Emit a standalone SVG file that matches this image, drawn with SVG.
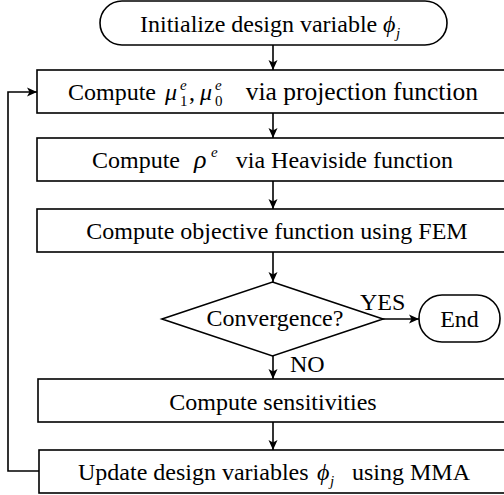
<svg xmlns="http://www.w3.org/2000/svg" width="504" height="495" viewBox="0 0 504 495">
<style>
text{font-family:"Liberation Serif","Times New Roman",serif;font-size:24px;fill:#000}
.i{font-style:italic}
.s{font-size:15px;font-style:italic}
.n{font-size:15px}
.box{fill:#fff;stroke:#000;stroke-width:1.6}
.ln{fill:none;stroke:#000;stroke-width:1.6}
</style>
<defs>
<marker id="ah" viewBox="0 0 10 10" refX="10" refY="5" markerWidth="10" markerHeight="10" markerUnits="userSpaceOnUse" orient="auto">
<path d="M0,0.5 L10,5 L0,9.5 L2.5,5 Z" fill="#000"/>
</marker>
</defs>
<g id="connectors">
<line class="ln" x1="273" y1="45" x2="273" y2="70" marker-end="url(#ah)"/>
<line class="ln" x1="273" y1="113" x2="273" y2="138" marker-end="url(#ah)"/>
<line class="ln" x1="273" y1="181" x2="273" y2="209" marker-end="url(#ah)"/>
<line class="ln" x1="273" y1="252" x2="273" y2="282" marker-end="url(#ah)"/>
<line class="ln" x1="383" y1="319" x2="419" y2="319" marker-end="url(#ah)"/>
<line class="ln" x1="273" y1="356" x2="273" y2="379" marker-end="url(#ah)"/>
<line class="ln" x1="273" y1="422" x2="273" y2="450" marker-end="url(#ah)"/>
<polyline class="ln" points="39,471 8,471 8,92 37,92" marker-end="url(#ah)"/>
<text x="360" y="310">YES</text>
<text x="290" y="372">NO</text>
</g>
<g id="start">
<rect class="box" x="100" y="1" width="347" height="44" rx="22" ry="22"/>
<text x="140" y="32">Initialize design variable</text>
<text class="i" x="383" y="32">ϕ</text>
<text class="s" x="396" y="38">j</text>
</g>
<g id="projection">
<rect class="box" x="37" y="70" width="472" height="43"/>
<text x="68" y="100">Compute</text>
<text class="i" x="165" y="100">μ</text>
<text class="s" x="180" y="90">e</text>
<text class="n" x="180" y="106">1</text>
<text x="189" y="100">,</text>
<text class="i" x="200" y="100">μ</text>
<text class="s" x="215" y="90">e</text>
<text class="n" x="215" y="106">0</text>
<text x="478" y="100" text-anchor="end" style="font-size:25.5px">via projection function</text>
</g>
<g id="heaviside">
<rect class="box" x="37" y="138" width="472" height="43"/>
<text x="92" y="168">Compute</text>
<text class="i" x="194" y="168" style="font-size:26px">ρ</text>
<text class="s" x="211" y="157">e</text>
<text x="453" y="168" text-anchor="end">via Heaviside function</text>
</g>
<g id="fem">
<rect class="box" x="37" y="209" width="472" height="43"/>
<text x="277" y="239" text-anchor="middle">Compute objective function using FEM</text>
</g>
<g id="convergence">
<polygon class="box" points="272.5,282 383,319 272.5,356 162,319"/>
<text x="275" y="326" text-anchor="middle">Convergence?</text>
</g>
<g id="end">
<rect class="box" x="419" y="295" width="81" height="47" rx="23" ry="23"/>
<text x="459.5" y="327" text-anchor="middle">End</text>
</g>
<g id="sensitivities">
<rect class="box" x="38" y="379" width="471" height="43"/>
<text x="273" y="410" text-anchor="middle">Compute sensitivities</text>
</g>
<g id="update">
<rect class="box" x="39" y="450" width="470" height="43"/>
<text x="78" y="480">Update design variables</text>
<text class="i" x="317" y="480">ϕ</text>
<text class="s" x="330" y="486">j</text>
<text x="470" y="480" text-anchor="end">using MMA</text>
</g>
</svg>
